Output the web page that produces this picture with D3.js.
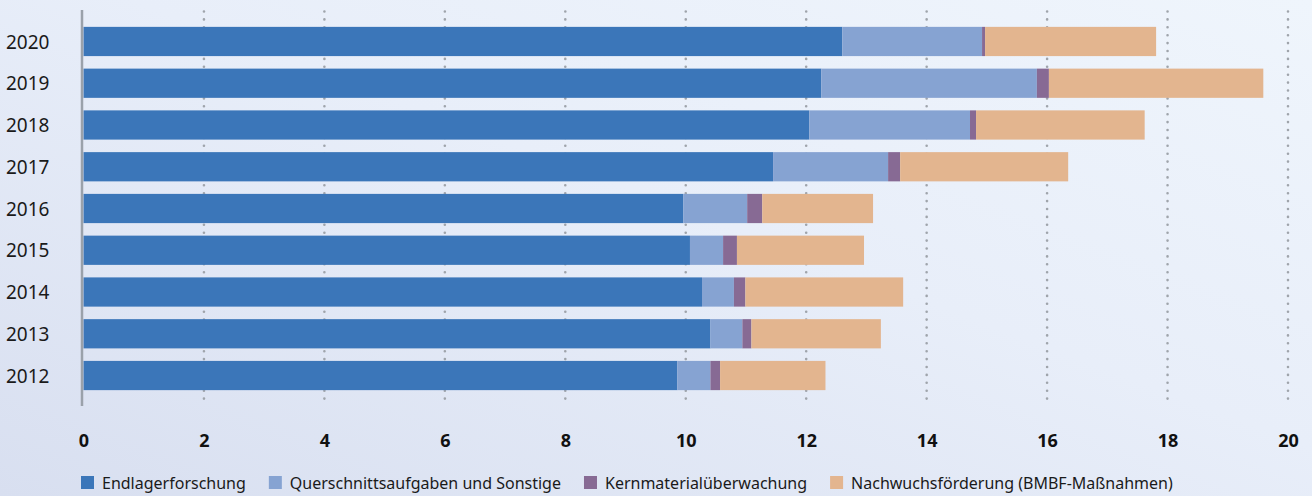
<!DOCTYPE html>
<html>
<head>
<meta charset="utf-8">
<script src="https://cdn.jsdelivr.net/npm/d3@7/dist/d3.min.js"></script>
<style>
html,body{margin:0;padding:0;}
body{width:1312px;height:496px;overflow:hidden;}
</style>
</head>
<body>
<svg id="chart" width="1312" height="496"></svg>
<script>
const years = ["2020","2019","2018","2017","2016","2015","2014","2013","2012"];
const seriesNames = ["Endlagerforschung","Querschnittsaufgaben und Sonstige","Kernmaterialüberwachung","Nachwuchsförderung (BMBF-Maßnahmen)"];
const endlager      = [12.60, 12.25, 12.05, 11.45, 9.96, 10.07, 10.27, 10.41, 9.86];
const querschnitt   = [2.32, 3.58, 2.67, 1.91, 1.06, 0.55, 0.53, 0.53, 0.55];
const kernmaterial  = [0.05, 0.20, 0.10, 0.20, 0.25, 0.23, 0.19, 0.15, 0.16];
const nachwuchs     = [2.84, 3.56, 2.80, 2.79, 1.84, 2.11, 2.62, 2.15, 1.75];
const xTicks = [0,2,4,6,8,10,12,14,16,18,20];
const colors = ["#3b76b9","#86a3d2","#876a94","#e3b58f"];

const svg = d3.select("#chart");
const W = 1312, H = 496;

// background gradient
const defs = svg.append("defs");
const grad = defs.append("linearGradient").attr("id","bg")
  .attr("x1","0").attr("y1","1").attr("x2","1").attr("y2","0");
grad.append("stop").attr("offset","0").attr("stop-color","#d8dff0");
grad.append("stop").attr("offset","0.55").attr("stop-color","#e8eef9");
grad.append("stop").attr("offset","1").attr("stop-color","#eff5fc");
svg.append("rect").attr("width",W).attr("height",H).attr("fill","url(#bg)");

const x = d3.scaleLinear().domain([0,20]).range([83.5,1288]);
const y = d3.scaleBand().domain(years).range([20.6,396.4]).paddingInner(0.3).paddingOuter(0.15);

// grid lines
svg.append("g").selectAll("line").data(xTicks.filter(t=>t>0)).join("line")
  .attr("x1",d=>x(d)).attr("x2",d=>x(d))
  .attr("y1",11.5).attr("y2",406)
  .attr("stroke","#9fa4ab").attr("stroke-width",2.6)
  .attr("stroke-linecap","round")
  .attr("stroke-dasharray","0 7.9");

// stacked data
const table = years.map((yr,i)=>({year:yr, s0:endlager[i], s1:querschnitt[i], s2:kernmaterial[i], s3:nachwuchs[i]}));
const stack = d3.stack().keys(["s0","s1","s2","s3"])(table);

svg.append("g").selectAll("g").data(stack).join("g")
  .attr("fill",(d,i)=>colors[i])
  .selectAll("rect").data(d=>d).join("rect")
  .attr("x",d=>x(d[0]))
  .attr("width",d=>x(d[1])-x(d[0]))
  .attr("y",d=>y(d.data.year))
  .attr("height",y.bandwidth());

// y axis line
svg.append("line").attr("x1",82).attr("x2",82).attr("y1",10).attr("y2",406)
  .attr("stroke","#9aa1aa").attr("stroke-width",2.5);

// year labels
svg.append("g").selectAll("text").data(years).join("text")
  .attr("x",6).attr("y",d=>y(d)+y.bandwidth()/2)
  .attr("dy","0.38em")
  .attr("font-family","Noto Sans, Open Sans, sans-serif")
  .attr("font-size",19)
  .attr("fill","#1a1a1a")
  .text(d=>d);

// x axis via d3.axisBottom
const xAxis = d3.axisBottom(x).tickValues(xTicks).tickSize(0).tickPadding(0);
const gx = svg.append("g").attr("transform","translate(0,435)").call(xAxis);
gx.select(".domain").remove();
gx.selectAll("text")
  .attr("font-family","Noto Sans, Open Sans, sans-serif")
  .attr("font-size",18)
  .attr("font-weight","bold")
  .attr("fill","#111")
  .attr("dy","0.36em")
  .attr("y",6);

// legend
const lg = svg.append("g").attr("transform","translate(81,483)");
let cx = 0;
seriesNames.forEach((name,i)=>{
  const g = lg.append("g").attr("transform",`translate(${cx},0)`);
  g.append("rect").attr("x",0).attr("y",-7).attr("width",13).attr("height",13).attr("fill",colors[i]);
  const t = g.append("text").attr("x",21).attr("y",0).attr("dy","0.35em")
    .attr("font-family","Noto Sans, Open Sans, sans-serif")
    .attr("font-size",16).attr("fill","#1a1a1a").text(name);
  const w = t.node().getComputedTextLength();
  cx += 21 + w + 23;
});
</script>
</body>
</html>
